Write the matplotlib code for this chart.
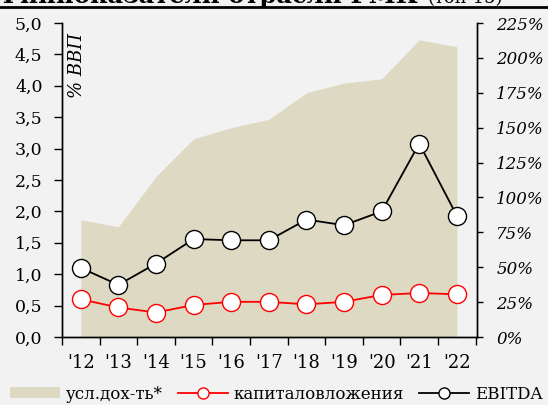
import matplotlib
matplotlib.use("Agg")
import matplotlib.pyplot as plt
from matplotlib.patches import Patch
from matplotlib.lines import Line2D

years = ["'12", "'13", "'14", "'15", "'16", "'17", "'18", "'19", "'20", "'21", "'22"]
yield_pct = [84, 79, 115, 142, 150, 156, 175, 182, 185, 213, 208]
capex = [0.60, 0.47, 0.39, 0.51, 0.56, 0.56, 0.52, 0.56, 0.67, 0.70, 0.68]
ebitda = [1.10, 0.83, 1.17, 1.56, 1.54, 1.54, 1.87, 1.78, 2.00, 3.08, 1.93]
left_ticks = [0.0, 0.5, 1.0, 1.5, 2.0, 2.5, 3.0, 3.5, 4.0, 4.5, 5.0]
right_ticks = [0, 25, 50, 75, 100, 125, 150, 175, 200, 225]

BG = "#f2f2f2"
AREA = "#ddd9c3"
FONT = "DejaVu Serif"
plt.rcParams["font.family"] = FONT

fig = plt.figure(figsize=(5.48, 4.05), dpi=100, facecolor=BG)
ax = fig.add_axes([0.1131, 0.1679, 0.757, 0.7753])
ax.set_facecolor(BG)
ax2 = ax.twinx()

x = list(range(len(years)))
ax2.fill_between(x, 0, yield_pct, color=AREA, linewidth=0, zorder=0)
ax2.set_ylim(0, 225)
ax.set_zorder(ax2.get_zorder() + 1)
ax.patch.set_visible(False)
ax2.patch.set_visible(True)
ax2.patch.set_facecolor(BG)

ax.plot(x, capex, color="#ff0000", lw=1.3, marker="o", ms=13,
        mfc="white", mec="#ff0000", mew=1.0, zorder=3)
ax.plot(x, ebitda, color="black", lw=1.3, marker="o", ms=13,
        mfc="white", mec="black", mew=1.0, zorder=4)

ax.set_xlim(-0.48, 10.53)
ax.set_ylim(0, 5.0)
ax.set_yticks(left_ticks)
ax.set_yticklabels([f"{v:.1f}".replace(".", ",") for v in left_ticks], fontsize=12.5)
ax.set_xticks([i + 0.5 for i in range(-1, len(years))], minor=False)
ax.set_xticklabels([])
ax.set_xticks(x, minor=True)
ax.set_xticklabels(years, minor=True, fontsize=13)
ax.tick_params(axis="x", which="major", length=6, direction="out", width=1)
ax.tick_params(axis="x", which="minor", length=0, pad=12)
ax.tick_params(axis="y", length=6, width=1, pad=8)

ax2.set_yticks(right_ticks)
ax2.set_yticklabels([f"{v}%" for v in right_ticks], fontsize=12, style="italic")
ax2.tick_params(axis="y", length=4, width=1, pad=10)

for a in (ax, ax2):
    a.spines["top"].set_visible(False)
    for s in ("left", "right", "bottom"):
        a.spines[s].set_linewidth(1.0)
        a.spines[s].set_color("black")

ax.text(0.015, 0.968, "% ВВП", transform=ax.transAxes, rotation=90, ha="left",
        va="top", fontsize=13, style="italic")

# cut-off title at the top (as in the reference)
fig.text(-0.005, 0.9935, "Финпоказатели отрасли РМК", fontsize=17.5, fontweight="bold",
         ha="left", va="baseline")
fig.text(428 / 548, 0.9935, "(топ-15)", fontsize=13, ha="left", va="baseline")
fig.add_artist(Line2D([0, 1], [0.9815, 0.9815], transform=fig.transFigure,
                      color="black", lw=2.0))

handles = [
    Patch(facecolor=AREA, edgecolor="none"),
    Line2D([], [], color="#ff0000", lw=1.3, marker="o", ms=8, mfc="white", mec="#ff0000"),
    Line2D([], [], color="black", lw=1.3, marker="o", ms=8, mfc="white", mec="black"),
]
labels = ["усл.дох-ть*", "капиталовложения", "EBITDA"]
fig.legend(handles, labels, loc="center left", bbox_to_anchor=(10 / 548, 0.027), ncol=3,
           frameon=False, fontsize=12, handlelength=3.0, handleheight=0.6,
           columnspacing=0.9, handletextpad=0.35, borderaxespad=0, borderpad=0)

fig.savefig("out.png", dpi=100, facecolor=BG)
